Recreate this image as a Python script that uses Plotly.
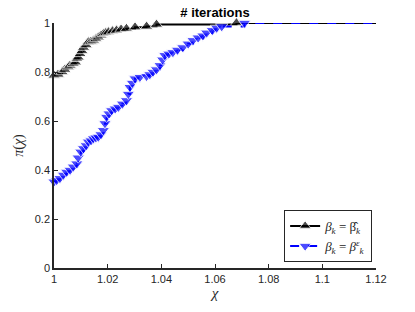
import plotly.graph_objects as go

# Performance profile data
chi_hat = [1.000, 1.0015, 1.003, 1.004, 1.0053, 1.006, 1.0072, 1.008, 1.0085, 1.009,
           1.0097, 1.0104, 1.011, 1.012, 1.0128, 1.0138, 1.0147, 1.0156, 1.0165, 1.0175,
           1.0184, 1.0193, 1.0203, 1.0218, 1.0233, 1.025, 1.027, 1.0302, 1.0345, 1.0382,
           1.068, 1.12]
pi_hat = [0.786, 0.79, 0.80, 0.81, 0.82, 0.827, 0.834, 0.84, 0.854, 0.86,
          0.874, 0.886, 0.90, 0.91, 0.922, 0.925, 0.929, 0.935, 0.942, 0.95,
          0.956, 0.96, 0.963, 0.967, 0.97, 0.974, 0.977, 0.983, 0.986, 0.994,
          1.0, 1.0]

chi_eps = [1.000, 1.001, 1.0022, 1.0035, 1.0047, 1.006, 1.0072, 1.0085, 1.009, 1.010,
           1.011, 1.012, 1.0128, 1.0138, 1.0147, 1.0156, 1.0165, 1.0175, 1.0184, 1.019,
           1.0196, 1.0205, 1.0215, 1.0228, 1.024, 1.0255, 1.027, 1.0277, 1.0283, 1.0292,
           1.0302, 1.032, 1.0345, 1.0357, 1.0369, 1.0382, 1.0395, 1.0405, 1.0413, 1.0428,
           1.0443, 1.046, 1.048, 1.050, 1.0518, 1.0537, 1.0555, 1.0569, 1.059, 1.0606,
           1.0625, 1.071, 1.12]
pi_eps = [0.352, 0.358, 0.366, 0.38, 0.392, 0.40, 0.413, 0.426, 0.45, 0.474,
          0.488, 0.50, 0.515, 0.52, 0.528, 0.532, 0.535, 0.545, 0.562, 0.59,
          0.616, 0.63, 0.643, 0.65, 0.657, 0.67, 0.684, 0.71, 0.738, 0.755,
          0.773, 0.779, 0.783, 0.79, 0.80, 0.81, 0.827, 0.85, 0.868, 0.874,
          0.88, 0.89, 0.90, 0.915, 0.929, 0.94, 0.948, 0.96, 0.97, 0.98,
          0.986, 1.0, 1.0]

x_ticks = [1, 1.02, 1.04, 1.06, 1.08, 1.1, 1.12]
x_ticklabels = ["1", "1.02", "1.04", "1.06", "1.08", "1.1", "1.12"]
y_ticks = [0, 0.2, 0.4, 0.6, 0.8, 1]
y_ticklabels = ["0", "0.2", "0.4", "0.6", "0.8", "1"]

label_hat = "<i>β</i><sub><i>k</i></sub> = β̂<sub><i>k</i></sub>"
label_eps = "<i>β</i><sub><i>k</i></sub> = <i>β</i><sup><i>ε</i></sup><sub><i>k</i></sub>"

msize = 11
fig = go.Figure()
fig.add_trace(go.Scatter(
    x=chi_hat, y=pi_hat, mode="lines+markers", name=label_hat,
    line=dict(color="black", width=2, shape="hv"),
    marker=dict(symbol="triangle-up", color="black",
                size=[msize] * (len(chi_hat) - 1) + [0]),
    cliponaxis=False,
))
fig.add_trace(go.Scatter(
    x=chi_eps, y=pi_eps, mode="lines+markers", name=label_eps,
    line=dict(color="#0000FF", width=2, shape="hv", dash="dash"),
    marker=dict(symbol="triangle-down", color="#0000FF",
                size=[msize] * (len(chi_eps) - 1) + [0]),
    cliponaxis=False,
))

tickfont = dict(family="Liberation Sans, Arial, sans-serif", size=11, color="#262626")
fig.update_layout(
    width=415, height=312,
    margin=dict(l=54, r=39, t=23, b=44, autoexpand=False),
    plot_bgcolor="white", paper_bgcolor="white",
    title=dict(text="<b># iterations</b>", x=0.5, xref="paper", xanchor="center",
               y=1 - 12 / 312, yref="container", yanchor="middle",
               font=dict(family="Liberation Sans, Arial, sans-serif", size=13, color="black")),
    xaxis=dict(range=[1, 1.12], tickvals=x_ticks, ticktext=x_ticklabels,
               ticks="inside", ticklen=4, tickwidth=1, tickcolor="#262626",
               showline=True, linecolor="#262626", linewidth=1.5,
               showgrid=False, zeroline=False, tickfont=tickfont, automargin=False,
               title=dict(text="<i>χ</i>", standoff=4,
                          font=dict(family="Liberation Serif, serif", size=15, color="#262626"))),
    yaxis=dict(range=[0, 1], tickvals=y_ticks, ticktext=y_ticklabels,
               ticks="inside", ticklen=4, tickwidth=1, tickcolor="#262626",
               showline=True, linecolor="#262626", linewidth=1.5,
               showgrid=False, zeroline=False, tickfont=tickfont, automargin=False,
               title=dict(text="<i>π</i>(<i>χ</i>)", standoff=8,
                          font=dict(family="Liberation Serif, serif", size=14, color="#262626"))),
    legend=dict(x=0.988, xanchor="right", y=0.024, yanchor="bottom",
                bgcolor="white", bordercolor="#262626", borderwidth=1,
                font=dict(family="Liberation Serif, serif", size=13, color="#262626"),
                tracegroupgap=0, itemwidth=30),
    showlegend=True,
)

fig.write_html("out.html", config={"displayModeBar": False},
               post_script="document.body.style.margin='0';")
